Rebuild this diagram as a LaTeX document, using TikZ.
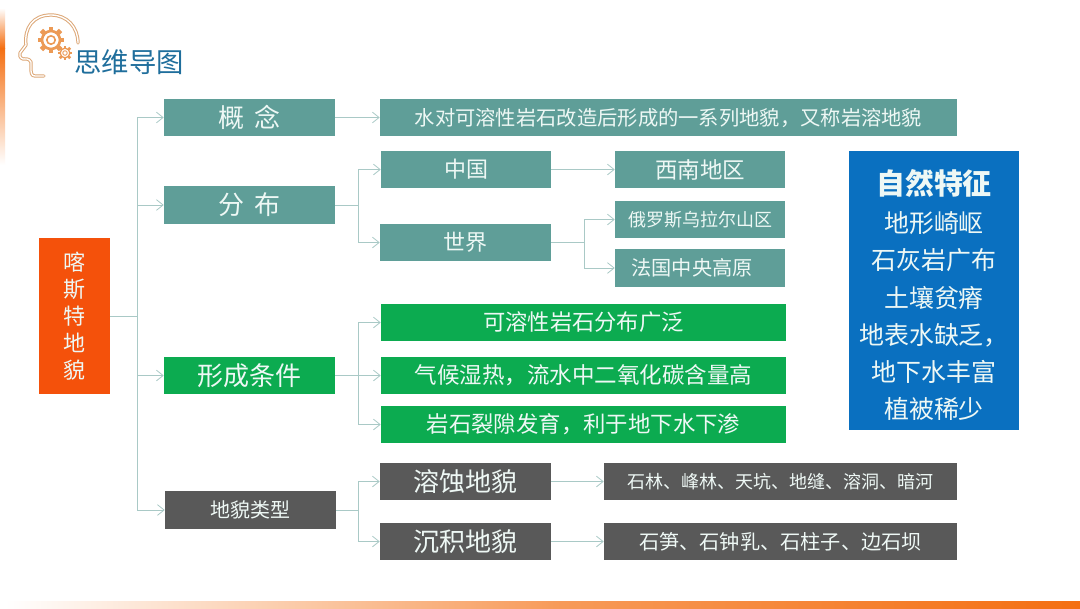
\documentclass[tikz,border=0pt]{standalone}
\usepackage{fontspec}
\setmainfont{Noto Sans CJK SC}
\usetikzlibrary{arrows.meta}
\definecolor{teal1}{HTML}{5F9E98}
\definecolor{green1}{HTML}{0CAB50}
\definecolor{dark1}{HTML}{595959}
\definecolor{orange1}{HTML}{F4510B}
\definecolor{blue1}{HTML}{0A70C0}
\definecolor{line1}{HTML}{A9C9C6}
\definecolor{txt1}{HTML}{EEF8F5}
\definecolor{title1}{HTML}{1F6E9C}
\definecolor{head1}{HTML}{DDA878}
\definecolor{gear1}{HTML}{EC9A55}
\definecolor{bar1}{HTML}{F46F12}
\tikzset{
  x=0.75pt,y=-0.75pt,
  box/.style={inner sep=0pt,text=txt1,align=center},
  conn/.style={draw=line1,line width=0.75pt,-{Straight Barb[length=5pt,width=8pt,line width=0.6pt]}},
  tl/.style={fill=teal1},
  gr/.style={fill=green1},
  dk/.style={fill=dark1},
}
% \bx{name}{x1}{y1}{x2}{y2}{style}{font px}{text}
\newcommand{\bx}[8]{%
  \pgfmathsetlengthmacro{\bxfs}{#7*0.75pt}%
  \pgfmathsetlengthmacro{\bxbs}{#7*0.92pt}%
  \node[box,#6,minimum width={(#4-#2)*0.75pt},minimum height={(#5-#3)*0.75pt},font=\fontsize{\bxfs}{\bxbs}\selectfont] (#1) at ({(#2+#4)/2},{(#3+#5)/2})
    {#8};}
\newcommand{\fs}[1]{\fontsize{#1}{#1}\selectfont}
\newcommand{\gearshape}[4]{% x y radius teeth
  \foreach \a in {1,...,#4}{
    \draw[gear1,line width={#3*0.3pt},rotate around={\a*360/#4:(#1,#2)}] (#1,{#2-#3*0.8}) -- (#1,{#2-#3*1.12});
  }
  \draw[gear1,line width={#3*0.16pt},fill=white] (#1,#2) circle ({#3*0.75});
  \draw[gear1,line width={#3*0.1pt},fill=white] (#1,#2) circle ({#3*0.35});
}
\begin{document}
\begin{tikzpicture}
\useasboundingbox (0,0) rectangle (1080,608);
\fill[white] (0,0) rectangle (1080,608);
% decorative bars
\shade[top color=white,bottom color=bar1] (0,8) rectangle (5,48);
\shade[top color=bar1,bottom color=white] (0,48) rectangle (5,165);
\shade[left color=white,right color=bar1!70!white] (5,601) rectangle (560,608);
\shade[left color=bar1!70!white,right color=bar1] (560,601) rectangle (1080,608);
% logo
\draw[head1,line width=0.75pt,double=white,double distance=1pt,line cap=round,line join=round]
  (44,76) -- (35,76) .. controls (31,76) and (31,72) .. (31,68) -- (31,62)
  .. controls (29,58) and (25,59) .. (23,59) .. controls (20,58) and (19,55) .. (20,53)
  -- (26,45) .. controls (24,28) and (33,15) .. (51,15)
  .. controls (67,15) and (78,27) .. (78,43);
\gearshape{51}{40}{12}{8}
\gearshape{65}{53}{6.5}{8}
\node[inner sep=0pt,text=title1] (title) at (129,62) {\fs{20.5pt}思维导图};
% nodes
\bx{root}{39}{238}{110}{394}{fill=orange1}{22}{喀\\斯\\特\\地\\貌}
\bx{gn}{164}{99}{335}{136}{tl}{26}{概\hspace{0.36em}念}
\bx{fb}{164}{186}{335}{224}{tl}{26}{分\hspace{0.36em}布}
\bx{xc}{164}{357}{335}{394}{gr}{26}{形成条件}
\bx{lx}{165}{491}{336}{529}{dk}{20}{地貌类型}
\bx{def}{380}{99}{957}{136}{tl}{20.3}{水对可溶性岩石改造后形成的一系列地貌，又称岩溶地貌}
\bx{zg}{381}{151}{551}{188}{tl}{22}{中国}
\bx{sj}{380}{224}{551}{261}{tl}{22}{世界}
\bx{xn}{615}{151}{785}{188}{tl}{22.5}{西南地区}
\bx{el}{615}{201}{785}{238}{tl}{18}{俄罗斯乌拉尔山区}
\bx{fg}{615}{249}{785}{287}{tl}{20.2}{法国中央高原\hspace*{12pt}}
\bx{c1}{381}{304}{786}{341}{gr}{22.3}{可溶性岩石分布广泛}
\bx{c2}{381}{357}{786}{394}{gr}{22.5}{气候湿热，流水中二氧化碳含量高}
\bx{c3}{381}{406}{786}{443}{gr}{22.4}{岩石裂隙发育，利于地下水下渗}
\bx{rs}{380}{463}{551}{500}{dk}{26}{溶蚀地貌}
\bx{cj}{380}{523}{551}{560}{dk}{26}{沉积地貌}
\bx{t1}{604}{463}{957}{500}{dk}{18}{石林、峰林、天坑、地缝、溶洞、暗河}
\bx{t2}{604}{523}{957}{560}{dk}{20.2}{石笋、石钟乳、石柱子、边石坝}
\node[fill=blue1,text=txt1,inner sep=0pt,minimum width=127.5pt,minimum height=209.25pt,align=center] (zr) at (934,290.5) {};
\node[inner sep=0pt,text=txt1] (z0) at (934,183) {\fs{21.7pt}\bfseries 自然特征};
\node[inner sep=0pt,text=txt1] (z1) at (934,223) {\fs{18.7pt}地形崎岖};
\node[inner sep=0pt,text=txt1] (z2) at (934,260) {\fs{18.7pt}石灰岩广布};
\node[inner sep=0pt,text=txt1] (z3) at (934,298) {\fs{18.7pt}土壤贫瘠};
\node[inner sep=0pt,text=txt1] (z4) at (934,335) {\fs{18.7pt}地表水缺乏，};
\node[inner sep=0pt,text=txt1] (z5) at (934,372) {\fs{18.7pt}地下水丰富};
\node[inner sep=0pt,text=txt1] (z6) at (934,409) {\fs{18.7pt}植被稀少};
% junctions
\coordinate (j0) at (137,316);
\coordinate (j1) at (358,205);
\coordinate (j2) at (358,375.5);
\coordinate (j3) at (358,510);
\coordinate (j4) at (584,242.5);
% connectors
\foreach \t in {gn,fb,xc,lx}{\draw[conn] (root.east) -- (j0) |- (\t.west);}
\draw[conn] (gn.east) -- (def.west);
\foreach \t in {zg,sj}{\draw[conn] (fb.east) -- (j1) |- (\t.west);}
\foreach \t in {c1,c2,c3}{\draw[conn] (xc.east) -- (j2) |- (\t.west);}
\foreach \t in {rs,cj}{\draw[conn] (lx.east) -- (j3) |- (\t.west);}
\draw[conn] (zg.east) -- (xn.west);
\foreach \t in {el,fg}{\draw[conn] (sj.east) -- (j4) |- (\t.west);}
\draw[conn] (rs.east) -- (t1.west);
\draw[conn] (cj.east) -- (t2.west);
\end{tikzpicture}
\end{document}
